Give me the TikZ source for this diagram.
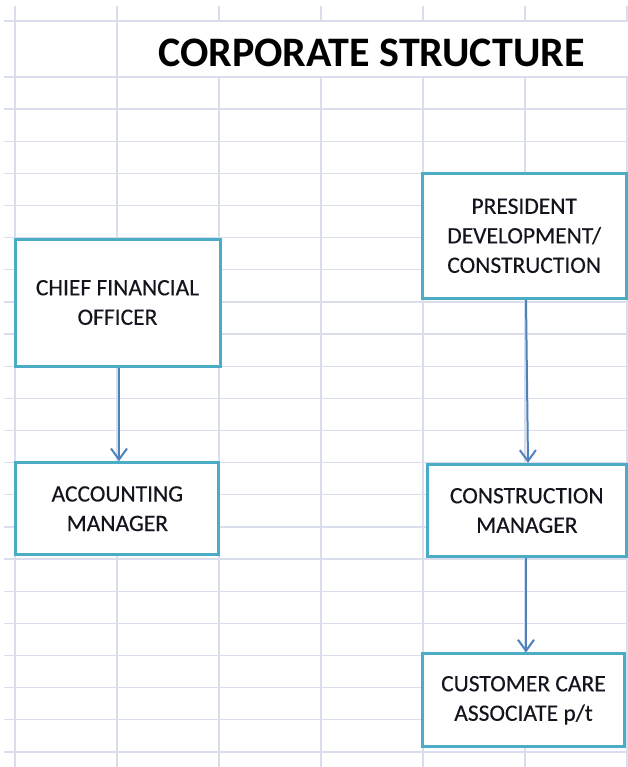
\documentclass[tikz,border=0pt]{standalone}
\usepackage{fontspec}
\setmainfont{Carlito}
\newfontfamily\rolefont[FakeBold=0.25]{Carlito}
\usetikzlibrary{arrows.meta}

\definecolor{gridgray}{RGB}{218,222,236}
\definecolor{boxteal}{RGB}{75,172,198}
\definecolor{linkblue}{RGB}{79,129,189}
\definecolor{roletext}{RGB}{20,20,30}

\tikzset{
  sheetline/.style={draw=gridgray, line width=1.3pt},
  rolebox/.style={draw=boxteal, fill=white, line width=3pt, align=center,
    inner sep=0pt, text=roletext, font=\rolefont\fontsize{23.5}{29.5}\selectfont},
  link/.style={draw=linkblue, line width=2pt,
    -{Straight Barb[length=11pt,width=16pt,line width=2pt]}},
}

\begin{document}
\begin{tikzpicture}[x=1pt, y=-1pt]
  \useasboundingbox (0,0) rectangle (628,767);
  \fill[white] (0,0) rectangle (628,767);

  % spreadsheet grid: horizontal rows
  \foreach \yy in {21,77} \draw[sheetline] (4,\yy) -- (628,\yy);
  \foreach \k in {1,...,21} \draw[sheetline] (4,{77+32.14*\k}) -- (628,{77+32.14*\k});
  % spreadsheet grid: columns (title row is a merged cell)
  \foreach \xx in {15,117} \draw[sheetline] (\xx,6) -- (\xx,767);
  \foreach \xx in {219,321,423,525,627} {
    \draw[sheetline] (\xx,6) -- (\xx,21);
    \draw[sheetline] (\xx,77) -- (\xx,767);
  }

  % title
  \node[anchor=base, inner sep=0pt, font=\fontsize{42}{46}\selectfont\bfseries]
    (title) at (371.5,66.5) {CORPORATE STRUCTURE};

  % positions
  \node[rolebox, minimum width=205pt, minimum height=127pt]
    (cfo) at (117.5,302.5) {CHIEF FINANCIAL\\OFFICER};
  \node[rolebox, minimum width=203.3pt, minimum height=92pt]
    (acc) at (117.3,508.7) {ACCOUNTING\\MANAGER};
  \node[rolebox, minimum width=203.7pt, minimum height=125pt]
    (pres) at (524.2,235.8) {PRESIDENT\\DEVELOPMENT/\\CONSTRUCTION};
  \node[rolebox, minimum width=199.5pt, minimum height=92.4pt]
    (cm) at (526.8,510.5) {CONSTRUCTION\\MANAGER};
  \node[rolebox, minimum width=201.6pt, minimum height=92.7pt]
    (cc) at (523.5,700.3) {CUSTOMER CARE\\ASSOCIATE p/t};

  % reporting lines
  \draw[link] ([xshift=1.5pt]cfo.south) -- ([xshift=1.5pt]cfo.south |- acc.north);
  \draw[link] ([xshift=1.8pt]pres.south) -- ([xshift=1.2pt]cm.north);
  \draw[link] ([xshift=-0.8pt]cm.south) -- ([xshift=-0.8pt]cm.south |- cc.north);
\end{tikzpicture}
\end{document}
